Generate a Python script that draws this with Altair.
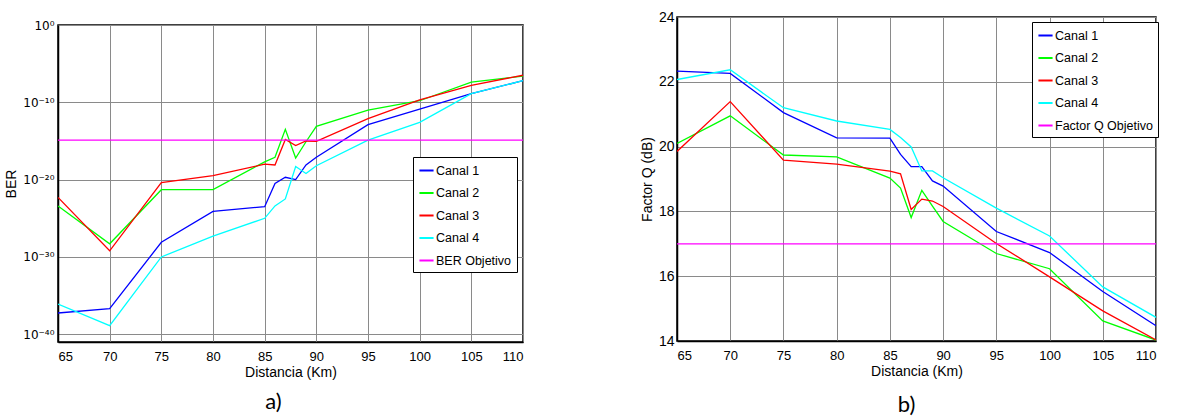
import altair as alt
import pandas as pd

# ---------------- data ----------------
distancia = [65, 70, 75, 80, 85, 86, 87, 88, 89, 90, 95, 100, 105, 110]
x_ticks = [65, 70, 75, 80, 85, 90, 95, 100, 105, 110]

# Panel a) BER
ber_canal1 = [5.6e-38, 2.0e-37, 7.9e-29, 7.9e-25, 3.2e-24, 3.2e-21, 2.0e-20, 1.0e-20,
              7.9e-19, 7.9e-18, 1.3e-13, 1.3e-11, 1.3e-09, 6.3e-08]
ber_canal2 = [4.0e-24, 5.0e-29, 5.0e-22, 5.0e-22, 2.0e-18, 7.9e-18, 3.2e-14, 6.3e-18,
              7.9e-16, 7.9e-14, 1.0e-11, 1.6e-10, 4.0e-08, 2.5e-07]
ber_canal3 = [5.0e-23, 6.3e-30, 4.0e-21, 3.2e-20, 1.0e-18, 7.9e-19, 1.6e-15, 2.5e-16,
              1.0e-15, 8.9e-16, 7.9e-13, 2.0e-10, 1.6e-08, 3.2e-07]
ber_canal4 = [7.9e-37, 1.3e-39, 1.0e-30, 5.0e-28, 1.0e-25, 4.0e-24, 3.2e-23, 5.0e-19,
              6.3e-20, 6.3e-19, 1.3e-15, 2.5e-13, 1.3e-09, 6.3e-08]
ber_objetivo = 1.3e-15
ber_ticks = [1, 1e-10, 1e-20, 1e-30, 1e-40]

# Panel b) Factor Q (dB)
q_canal1 = [22.33, 22.26, 21.05, 20.27, 20.26, 19.76, 19.38, 19.38, 18.94, 18.78,
            17.38, 16.73, 15.53, 14.47]
q_canal2 = [20.10, 20.95, 19.74, 19.68, 19.03, 18.72, 17.81, 18.65, 18.16, 17.69,
            16.70, 16.23, 14.62, 14.03]
q_canal3 = [19.85, 21.39, 19.58, 19.46, 19.24, 19.16, 18.06, 18.38, 18.32, 18.15,
            17.01, 15.98, 14.93, 14.03]
q_canal4 = [22.07, 22.37, 21.20, 20.79, 20.53, 20.28, 19.99, 19.25, 19.25, 19.04,
            18.10, 17.24, 15.67, 14.73]
q_objetivo = 17.0
q_ticks = [14, 16, 18, 20, 22, 24]

series_a = ["Canal 1", "Canal 2", "Canal 3", "Canal 4", "BER Objetivo"]
series_b = ["Canal 1", "Canal 2", "Canal 3", "Canal 4", "Factor Q Objetivo"]
colores = ["#0000ff", "#00ff00", "#ff0000", "#00ffff", "#ff00ff"]

FONT = "Liberation Sans, Arial, sans-serif"


def long_table(channels, target, target_name):
    rows = []
    for k, (name, vals) in enumerate(channels):
        for d, v in zip(distancia, vals):
            rows.append({"d": d, "v": v, "s": name, "k": k})
    for d in (distancia[0], distancia[-1]):
        rows.append({"d": d, "v": target, "s": target_name, "k": 4})
    return pd.DataFrame(rows)


df_a = long_table(list(zip(series_a[:4], [ber_canal1, ber_canal2, ber_canal3, ber_canal4])),
                  ber_objetivo, series_a[4])
df_b = long_table(list(zip(series_b[:4], [q_canal1, q_canal2, q_canal3, q_canal4])),
                  q_objetivo, series_b[4])

legend_common = dict(
    title=None, orient="none", symbolType="stroke", symbolStrokeWidth=2,
    symbolSize=200, labelFont=FONT, labelFontSize=12.5, labelColor="black",
    strokeColor="black", fillColor="white", padding=5, rowPadding=7.5,
    labelOffset=1, cornerRadius=0,
)

x_axis = dict(values=x_ticks, title="Distancia (Km)", labelPadding=8, titlePadding=2)

# ---------------- panel a ----------------
sup_expr = ("'10' + (datum.value > 0.1 ? '\u2070' : datum.value > 1e-15 ? '\u207b\u00b9\u2070' : "
            "datum.value > 1e-25 ? '\u207b\u00b2\u2070' : datum.value > 1e-35 ? '\u207b\u00b3\u2070' : "
            "'\u207b\u2074\u2070')")

chart_a = alt.Chart(df_a).mark_line(strokeWidth=1.3, clip=True).encode(
    x=alt.X("d:Q", scale=alt.Scale(domain=[65, 110], nice=False, zero=False),
            axis=alt.Axis(**x_axis)),
    y=alt.Y("v:Q", scale=alt.Scale(type="log", domain=[1e-41, 1], nice=False),
            axis=alt.Axis(values=ber_ticks, labelExpr=sup_expr, title="BER",
                          labelFont="DejaVu Sans", labelFontSize=12,
                          labelPadding=4, titlePadding=4)),
    color=alt.Color("s:N", scale=alt.Scale(domain=series_a, range=colores),
                    legend=alt.Legend(legendX=355, legendY=140, **legend_common)),
    order="k:Q",
).properties(
    width=465, height=317,
    title=alt.TitleParams("a)", orient="bottom", dx=-17, offset=13),
)

# empty strip above panel a, so that its plot area starts lower than panel b's
spacer_a = alt.Chart(alt.Data(values=[{"z": 0}])).mark_point(opacity=0).encode(
    x=alt.value(0), y=alt.value(0)
).properties(width=1, height=1, view=alt.ViewBackground(stroke="transparent"))

column_a = alt.vconcat(spacer_a, chart_a, spacing=7, bounds="flush")

# ---------------- panel b ----------------
chart_b = alt.Chart(df_b).mark_line(strokeWidth=1.3, clip=True).encode(
    x=alt.X("d:Q", scale=alt.Scale(domain=[65, 110], nice=False, zero=False),
            axis=alt.Axis(**x_axis)),
    y=alt.Y("v:Q", scale=alt.Scale(domain=[14, 24], nice=False, zero=False),
            axis=alt.Axis(values=q_ticks, title="Factor Q (dB)", labelPadding=3,
                          labelFontSize=14, titlePadding=4)),
    color=alt.Color("s:N", scale=alt.Scale(domain=series_b, range=colores),
                    legend=alt.Legend(legendX=355, legendY=5, **legend_common)),
    order="k:Q",
).properties(
    width=479, height=324,
    title=alt.TitleParams("b)", orient="bottom", dx=-10, offset=17),
)

chart = alt.hconcat(column_a, chart_b, spacing=115).resolve_scale(
    color="independent"
).resolve_legend(color="independent").properties(
    padding={"left": 4, "top": 9, "right": 2, "bottom": 0},
    background="white",
).configure_view(
    stroke="black", strokeWidth=1.5,
).configure_axis(
    domainColor="black", domainWidth=1.5, ticks=False,
    grid=True, gridColor="#8a8a8a", gridWidth=1,
    labelFont=FONT, labelFontSize=13, labelColor="black",
    titleFont=FONT, titleFontSize=14, titleFontWeight="normal", titleColor="black",
).configure_title(
    font="Lato", fontSize=22, fontWeight="normal", color="black",
)

chart.save("out.html", embed_options={"renderer": "svg", "actions": False})
